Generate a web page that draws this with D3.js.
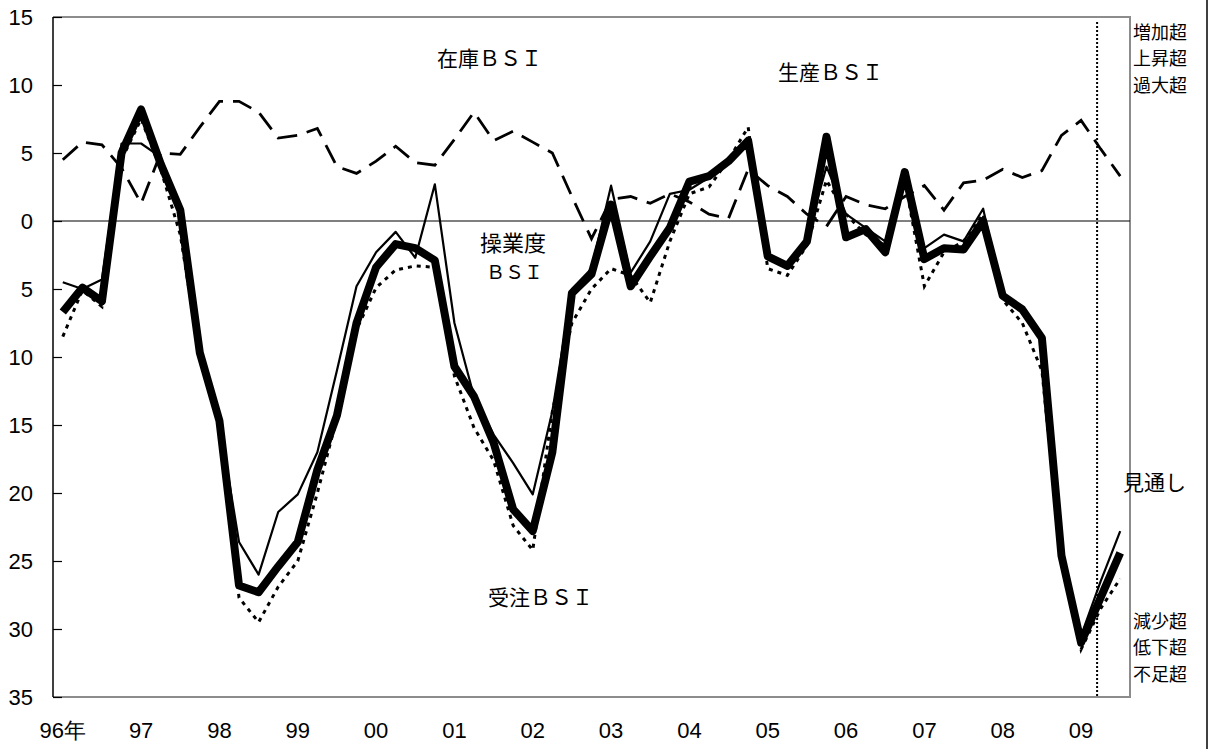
<!DOCTYPE html>
<html><head><meta charset="utf-8">
<script src="https://cdn.jsdelivr.net/npm/d3@7"></script>
<style>body{margin:0;background:#fff} svg{display:block}</style>
</head><body><svg id="c" width="1210" height="749"></svg>
<script>
const quarters = ["96Q1","96Q2","96Q3","96Q4","97Q1","97Q2","97Q3","97Q4","98Q1","98Q2","98Q3","98Q4",
 "99Q1","99Q2","99Q3","99Q4","00Q1","00Q2","00Q3","00Q4","01Q1","01Q2","01Q3","01Q4",
 "02Q1","02Q2","02Q3","02Q4","03Q1","03Q2","03Q3","03Q4","04Q1","04Q2","04Q3","04Q4",
 "05Q1","05Q2","05Q3","05Q4","06Q1","06Q2","06Q3","06Q4","07Q1","07Q2","07Q3","07Q4",
 "08Q1","08Q2","08Q3","08Q4","09Q1","09Q2","09Q3"];
// 生産BSI (thick)
const production = [-6.7,-4.9,-5.9,5.0,8.2,4.2,0.8,-9.7,-14.7,-26.8,-27.3,-25.4,
 -23.6,-18.3,-14.3,-7.5,-3.4,-1.7,-2.0,-2.9,-10.7,-12.9,-16.3,-21.2,
 -22.8,-17.0,-5.3,-3.9,1.2,-4.8,-2.6,-0.5,2.9,3.3,4.4,5.9,
 -2.6,-3.3,-1.5,6.2,-1.2,-0.6,-2.3,3.6,-2.8,-2.0,-2.1,0.0,
 -5.5,-6.5,-8.6,-24.6,-31.0,-27.7,-24.4];
// 操業度BSI (thin)
const utilization = [-4.5,-5.0,-4.3,5.7,5.7,4.7,0.5,-10.0,-14.8,-23.6,-26.0,-21.4,
 -20.1,-17.0,-11.0,-4.8,-2.3,-0.8,-2.7,2.7,-7.5,-12.9,-15.7,-17.8,
 -20.1,-14.0,-5.0,-3.5,2.6,-3.8,-1.5,2.0,2.3,3.2,4.3,5.6,
 -2.8,-3.3,-1.2,4.0,0.5,-0.5,-1.5,3.5,-2.0,-1.0,-1.5,0.9,
 -5.5,-6.5,-8.6,-24.6,-30.5,-26.5,-22.8];
// 受注BSI (dotted)
const orders = [-8.5,-5.1,-6.3,4.5,7.5,3.8,-1.0,-10.0,-15.0,-27.7,-29.5,-26.9,
 -25.0,-20.0,-14.5,-8.0,-4.9,-3.6,-3.3,-3.4,-11.4,-15.2,-17.6,-22.4,
 -24.2,-14.0,-7.5,-5.0,-3.5,-4.0,-6.0,-1.5,2.0,2.5,4.5,6.9,
 -3.5,-4.0,-1.8,3.0,0.5,-1.0,-1.8,3.0,-4.8,-2.3,-1.5,0.5,
 -5.8,-7.5,-11.0,-25.0,-31.5,-28.5,-26.3];
// 在庫BSI (dashed)
const inventory = [4.5,5.8,5.6,3.9,1.3,5.0,4.9,6.9,8.8,8.8,8.0,6.1,
 6.3,6.8,4.0,3.5,4.4,5.5,4.3,4.1,6.0,8.0,5.9,6.6,
 5.8,5.0,1.8,-1.3,1.6,1.8,1.3,2.0,1.4,0.5,0.2,3.8,
 2.6,1.8,0.5,-0.4,1.8,1.2,0.9,1.8,2.6,0.8,2.8,3.0,
 3.8,3.2,3.7,6.3,7.4,5.3,3.3];
const yTicks = [15,10,5,0,-5,-10,-15,-20,-25,-30,-35];
const yearTicks = ["96Q1","97Q1","98Q1","99Q1","00Q1","01Q1","02Q1","03Q1","04Q1","05Q1","06Q1","07Q1","08Q1","09Q1"];
const yearLabels = ["96年","97","98","99","00","01","02","03","04","05","06","07","08","09"];

const svg = d3.select("#c");
const L = 53, R = 1130, T = 17, B = 697;
const x = d3.scaleBand().domain(quarters).range([L, R]);
const cx = q => x(q) + x.bandwidth() / 2;
const y = d3.scaleLinear().domain([-35, 15]).range([B, T]);
const numFont = "Arial, 'Liberation Sans', sans-serif";
const jpFont = "'Noto Sans CJK JP', sans-serif";

// plot frame (gray top/right/bottom)
svg.append("path")
  .attr("d", `M${L},${T}H${R}V${B}H${L}`)
  .attr("fill", "none").attr("stroke", "#8c8c8c").attr("stroke-width", 2);

// outer right border
svg.append("line").attr("x1", 1207).attr("x2", 1207).attr("y1", 0).attr("y2", 749)
  .attr("stroke", "#000").attr("stroke-width", 1.5);

// y axis
const ya = svg.append("g").attr("transform", `translate(${L},0)`)
  .call(d3.axisLeft(y).tickValues(yTicks).tickFormat(d => Math.abs(d)).tickSizeInner(-9).tickSizeOuter(0).tickPadding(20));
ya.select(".domain").remove();
ya.selectAll(".tick line").attr("stroke", "#000").attr("stroke-width", 1.2);
ya.selectAll("text").attr("font-family", numFont).attr("font-size", 22).attr("fill", "#000");
svg.append("line").attr("x1", L).attr("x2", L).attr("y1", T).attr("y2", B)
  .attr("stroke", "#000").attr("stroke-width", 1.5);

// x axis labels
const xa = svg.append("g").attr("transform", `translate(0,${B})`)
  .call(d3.axisBottom(x).tickValues(yearTicks).tickFormat((d, i) => yearLabels[i]).tickSize(0).tickPadding(25));
xa.select(".domain").remove();
xa.selectAll("text").attr("font-family", numFont).attr("font-size", 22).attr("fill", "#000");

// zero line
svg.append("line").attr("x1", L).attr("x2", R).attr("y1", y(0)).attr("y2", y(0))
  .attr("stroke", "#000").attr("stroke-width", 1);

// forecast divider (between 09Q1 and 09Q2)
const xDiv = cx("09Q1") + x.bandwidth() * 0.82;
svg.append("line").attr("x1", xDiv).attr("x2", xDiv).attr("y1", T + 5).attr("y2", B)
  .attr("stroke", "#000").attr("stroke-width", 2).attr("stroke-dasharray", "2,2");

const line = d3.line().x((d, i) => cx(quarters[i])).y(d => y(d));
function draw(data, w, dash) {
  svg.append("path").datum(data).attr("d", line)
    .attr("fill", "none").attr("stroke", "#000").attr("stroke-width", w)
    .attr("stroke-linejoin", dash ? "miter" : "round").attr("stroke-linecap", "butt")
    .attr("stroke-dasharray", dash || null);
}
draw(inventory, 2.8, "20,10");
draw(orders, 3, "4,5");
draw(utilization, 2.2, null);
draw(production, 8, null);

// annotations
function label(txt, xPos, yPos, size, anchor) {
  svg.append("text").attr("x", xPos).attr("y", yPos).attr("font-family", jpFont)
    .attr("font-size", size).attr("text-anchor", anchor || "start").attr("fill", "#000").text(txt);
}
label("在庫ＢＳＩ", 437, 66, 21);
label("生産ＢＳＩ", 778, 80, 21);
label("操業度", 480, 251, 22);
label("ＢＳＩ", 486, 279, 19);
label("受注ＢＳＩ", 488, 605, 21);
// stacked side notes
function block(lines, xPos, yFirst, size, gap) {
  const t = svg.append("text").attr("font-family", jpFont).attr("font-size", size).attr("fill", "#000");
  lines.forEach((s, i) => t.append("tspan").attr("x", xPos).attr("y", yFirst + i * gap).text(s));
}
block(["増加超", "上昇超", "過大超"], 1133, 39, 18, 26.3);
label("見通し", 1123, 490, 21);
block(["減少超", "低下超", "不足超"], 1133, 628, 18, 26.3);
</script></body></html>
